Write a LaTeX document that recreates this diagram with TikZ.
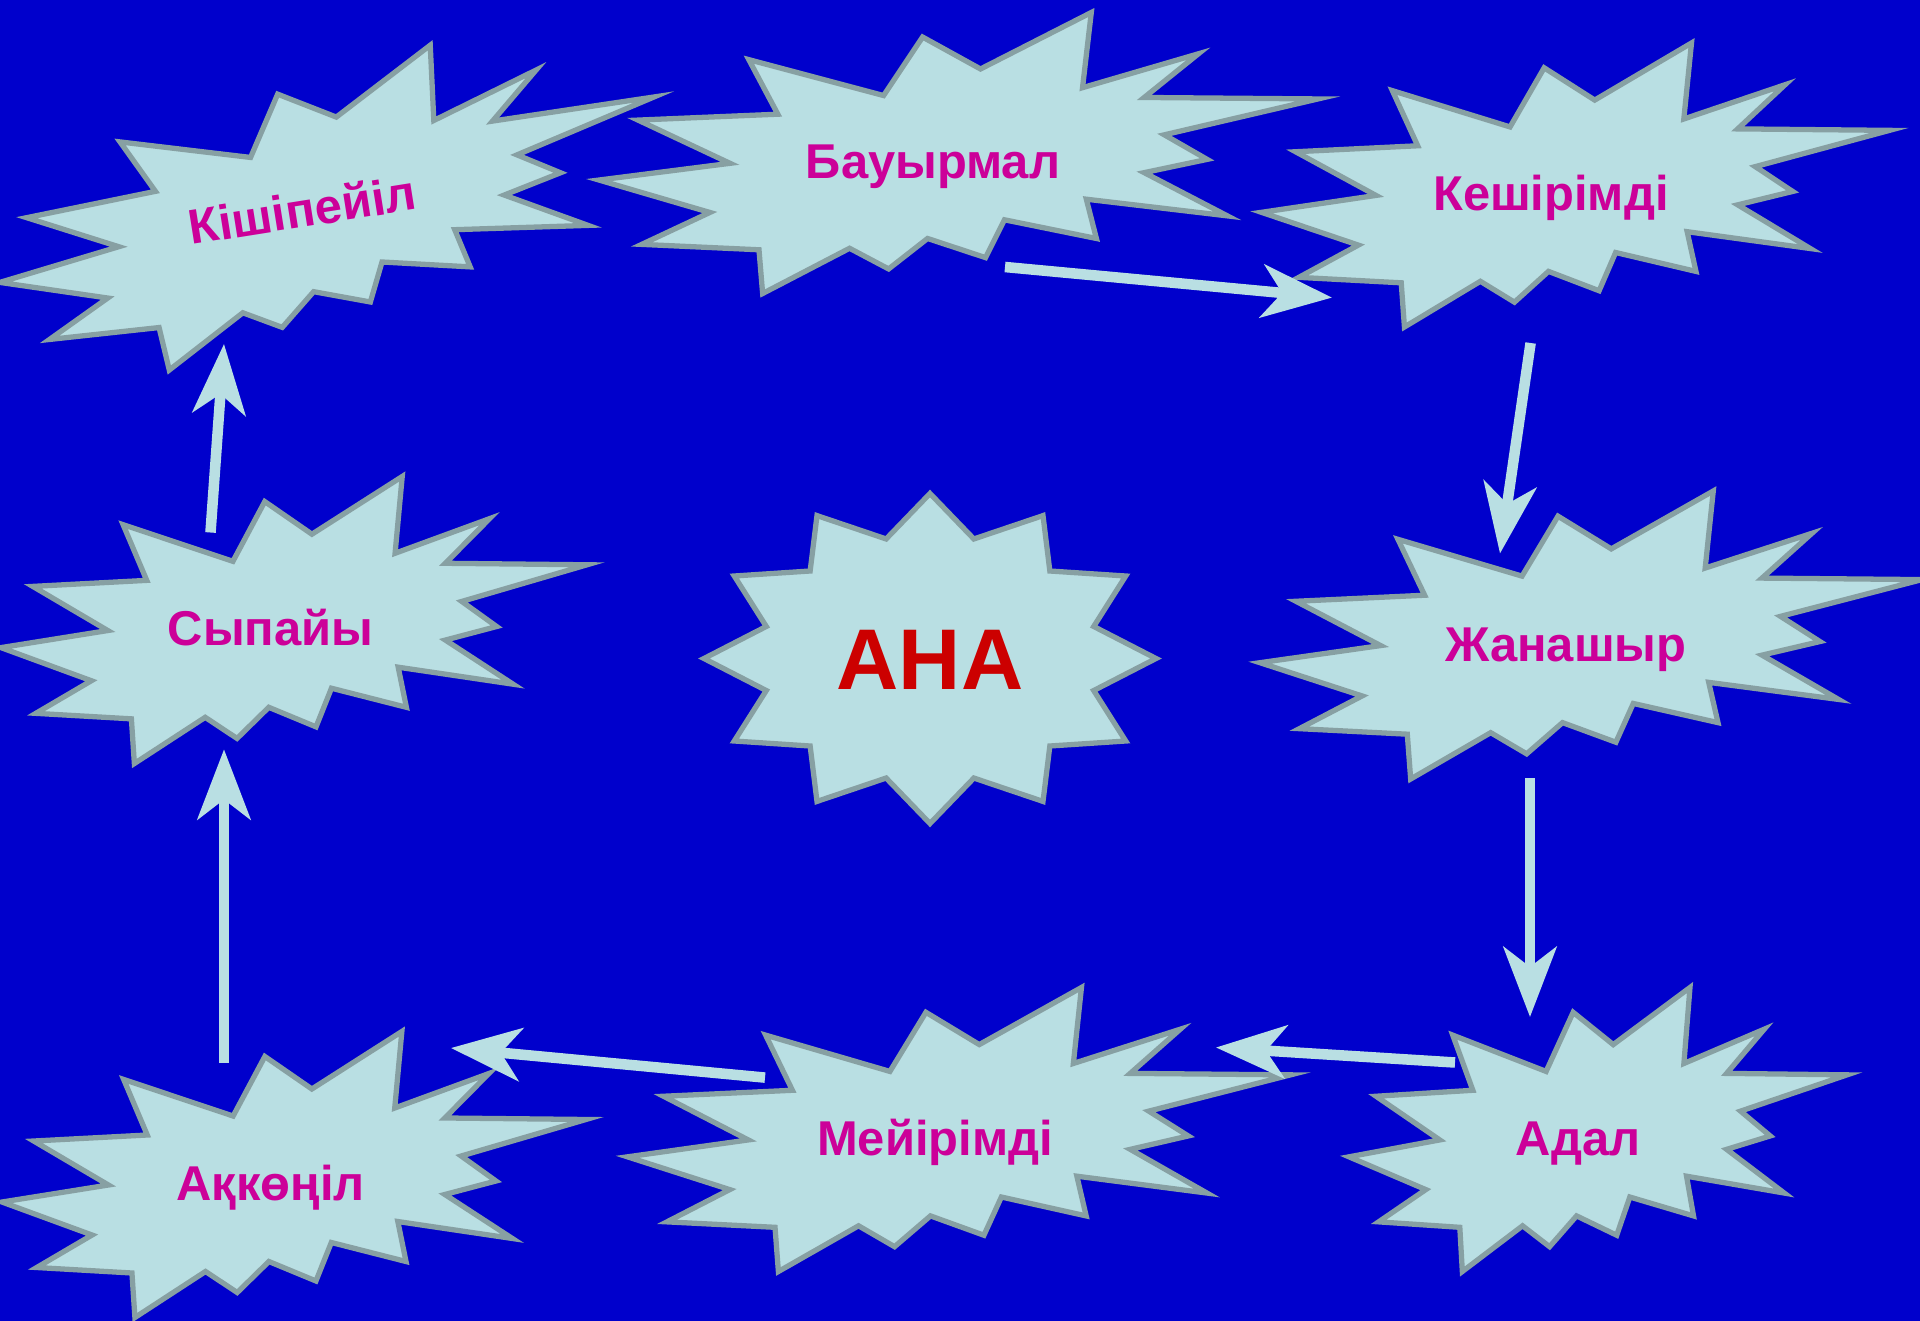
\documentclass[tikz,border=0pt]{standalone}
\usepackage{fontspec}
\setmainfont{Liberation Sans}
\usetikzlibrary{arrows.meta}
\definecolor{bgblue}{RGB}{0,0,204}
\definecolor{sealfill}{RGB}{185,223,227}
\definecolor{sealrim}{RGB}{135,160,163}
\definecolor{wordpink}{RGB}{204,0,153}
\definecolor{anared}{RGB}{204,0,0}
\tikzset{
  seal/.style={draw=sealrim, fill=sealfill, line width=1.5pt},
  word/.style={anchor=base, inner sep=0pt, text=wordpink, font=\bfseries\fontsize{13.9}{16}\selectfont},
  bigword/.style={anchor=base, inner sep=0pt, text=anared, font=\bfseries\fontsize{24.5}{28}\selectfont},
  link/.style={draw=sealfill, line width=3pt, -{Stealth[length=7mm, width=5.3mm, inset=2mm]}}
}
\newcommand{\burst}[5]{%
  \begin{scope}[shift={(#1,#2)}, rotate=#5, xscale=#3/100, yscale=#4/100, shift={(-50,-50)}]
    \draw[seal] (53.06,20.10) -- (68.47,0) -- (67.25,26.75) -- (83.37,14.69) -- (75.83,30.24)
      -- (100,30.76) -- (78.63,43.53) -- (84.58,52.27) -- (75.83,56.99) -- (87.39,72.37)
      -- (67.78,66.44) -- (69.18,80.42) -- (56.39,73.77) -- (53.76,87.23) -- (45.70,80.42)
      -- (40.28,91.26) -- (34.85,83.91) -- (22.76,100) -- (22.25,84.44) -- (5.95,82.52)
      -- (15.42,71.16) -- (0,59.62) -- (18.22,53.67) -- (5.43,38.29) -- (24.87,36.19)
      -- (20.84,16.78) -- (39.58,29.55) -- (45.01,8.74) -- cycle;
  \end{scope}}

\begin{document}
\begin{tikzpicture}[x=0.01cm, y=-0.01cm]
  \useasboundingbox (0,0) rectangle (1920,1321);
  \clip (0,0) rectangle (1920,1321);
  \fill[bgblue] (0,0) rectangle (1920,1321);

  \burst{329}{203}{675}{280}{9}
  \burst{958.5}{153}{719}{281}{0}
  \burst{1575.5}{185}{628}{284}{0}
  \burst{1591}{635}{662}{288}{0}
  \burst{1598}{1129.5}{498}{284}{0}
  \burst{959}{1129.5}{663}{284}{0}
  \burst{294}{1174.5}{584}{286}{0}
  \burst{294}{620}{586}{287}{0}
  \begin{scope}[shift={(930,658.5)}]
    \draw[seal] (0:226 and 165) \foreach \a in {0,30,...,300}{ -- ({\a+15}:169.5 and 123.75) -- ({\a+30}:226 and 165)} -- (345:169.5 and 123.75) -- cycle;
  \end{scope}

  \node[word, rotate=9] (kish) at (305,227) {Кішіпейіл};
  \node[word] (bauy) at (933,178.5) {Бауырмал};
  \node[word] (kesh) at (1551,210) {Кешірімді};
  \node[word] (zhan) at (1566,661) {Жанашыр};
  \node[word] (adal) at (1578,1155) {Адал};
  \node[word] (meyi) at (935,1155) {Мейірімді};
  \node[word] (akko) at (270.6,1200) {Ақкөңіл};
  \node[word] (sypa) at (270.6,645) {Сыпайы};
  \node[bigword] (ana) at (930,689) {АНА};

  \coordinate (bauy-out) at (1005,267);
  \coordinate (kesh-in) at (1332,297.6);
  \coordinate (kesh-out) at (1530.6,343);
  \coordinate (zhan-in) at (1500,553.5);
  \coordinate (zhan-out) at (1530,778);
  \coordinate (adal-in) at (1530,1017);
  \coordinate (adal-out) at (1455,1062.5);
  \coordinate (meyi-in) at (1216,1047.5);
  \coordinate (meyi-out) at (765,1077.6);
  \coordinate (akko-in) at (451,1048);
  \coordinate (akko-out) at (224,1063);
  \coordinate (sypa-in) at (224,749.4);
  \coordinate (sypa-out) at (210.5,532.5);
  \coordinate (kish-in) at (224,344);

  \draw[link] (bauy-out) -- (kesh-in);
  \draw[link] (kesh-out) -- (zhan-in);
  \draw[link] (zhan-out) -- (adal-in);
  \draw[link] (adal-out) -- (meyi-in);
  \draw[link] (meyi-out) -- (akko-in);
  \draw[link] (akko-out) -- (sypa-in);
  \draw[link] (sypa-out) -- (kish-in);
\end{tikzpicture}
\end{document}
